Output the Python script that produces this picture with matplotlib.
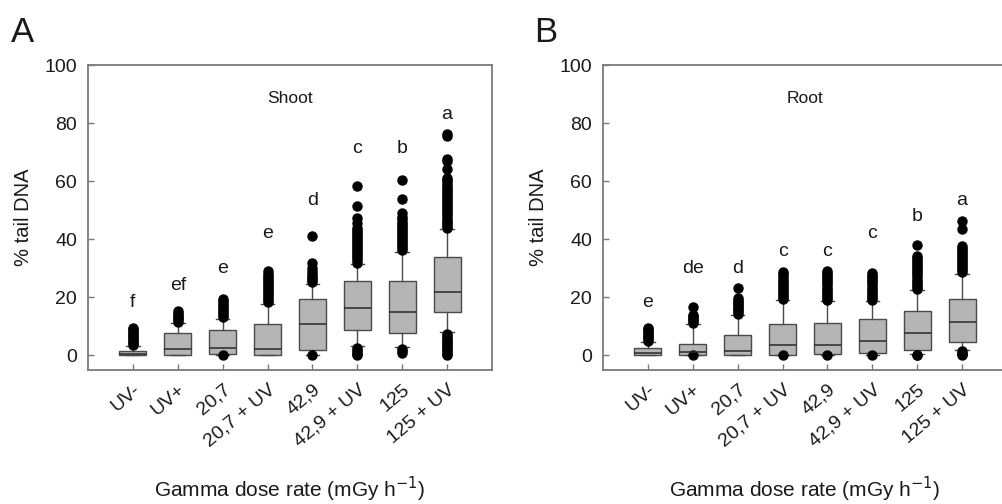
import matplotlib
matplotlib.use("Agg")
import matplotlib.pyplot as plt

plt.rcParams['font.family'] = ['Liberation Sans', 'DejaVu Sans']

treatments = ['UV-', 'UV+', '20,7', '20,7 + UV', '42,9', '42,9 + UV', '125', '125 + UV']

# --- Shoot: box statistics (% tail DNA) ---
shoot_q1 = [0.0, 0.0, 0.6, 0.0, 1.8, 8.6, 7.8, 14.8]
shoot_med = [0.5, 2.3, 2.6, 2.3, 10.8, 16.2, 15.1, 21.9]
shoot_q3 = [1.5, 7.8, 8.7, 10.9, 19.6, 25.8, 25.8, 33.9]
shoot_lo = [0.0, 0.0, 0.0, 0.0, 0.1, 3.3, 2.8, 8.1]
shoot_hi = [3.2, 11.2, 12.7, 17.8, 24.7, 31.5, 35.7, 43.4]
shoot_out = [
    [3.6, 4.2, 4.8, 5.4, 6.0, 6.6, 7.2, 7.8, 8.4, 9.0, 9.5],
    [11.6, 12.2, 12.8, 13.4, 14.0, 14.6, 15.2],
    [0.0, 13.2, 13.8, 14.5, 15.2, 15.9, 16.6, 17.3, 18.0, 18.8, 19.6],
    [18.3, 19.0, 19.7, 20.4, 21.1, 21.8, 22.5, 23.2, 23.9, 24.6, 25.3, 26.0,
     26.7, 27.4, 28.2, 29.0],
    [0.0, 25.2, 25.9, 26.6, 27.3, 28.2, 29.1, 30.0, 31.8, 41.0],
    [0.0, 0.6, 1.2, 1.8, 2.5, 32.0, 32.7, 33.4, 34.1, 34.8, 35.5, 36.2, 36.9,
     37.6, 38.3, 39.0, 39.7, 40.4, 41.1, 41.8, 42.5, 43.2, 44.0, 45.5, 47.3,
     51.3, 58.2],
    [0.9, 1.5, 2.2, 36.3, 37.0, 37.7, 38.4, 39.1, 39.8, 40.5, 41.2, 41.9, 42.6,
     43.3, 44.0, 44.7, 45.4, 46.1, 46.9, 47.8, 49.0, 53.8, 60.5],
    [0.0, 0.6, 1.2, 1.8, 2.4, 3.0, 3.6, 4.2, 4.8, 5.4, 6.0, 6.6, 7.3, 44.0,
     44.7, 45.4, 46.1, 46.8, 47.5, 48.2, 48.9, 49.6, 50.3, 51.0, 51.7, 52.4,
     53.1, 53.8, 54.5, 55.2, 55.9, 56.6, 57.3, 58.0, 58.8, 59.6, 60.4, 61.0,
     64.1, 66.8, 67.6, 75.4, 76.2],
]
shoot_letters = ['f', 'ef', 'e', 'e', 'd', 'c', 'b', 'a']
shoot_letter_y = [16.8, 22.7, 28.4, 40.3, 51.9, 69.6, 69.6, 81.3]

# --- Root: box statistics (% tail DNA) ---
root_q1 = [0.0, 0.3, 0.1, 0.3, 0.6, 0.9, 1.8, 4.8]
root_med = [0.7, 1.3, 1.7, 3.6, 3.6, 4.9, 7.6, 11.5]
root_q3 = [2.6, 4.1, 6.9, 11.0, 11.2, 12.4, 15.2, 19.6]
root_lo = [0.0, 0.0, 0.0, 0.0, 0.0, 0.1, 0.6, 1.8]
root_hi = [4.6, 10.7, 13.9, 19.0, 18.7, 18.7, 22.5, 28.2]
root_out = [
    [5.0, 5.6, 6.2, 6.8, 7.4, 8.0, 8.6, 9.1, 9.5],
    [0.0, 11.2, 11.8, 12.4, 13.0, 13.6, 14.1, 16.6],
    [14.3, 14.9, 15.5, 16.1, 16.7, 17.3, 17.9, 18.5, 19.1, 19.8, 23.3],
    [0.0, 19.5, 20.2, 20.9, 21.6, 22.3, 23.0, 23.7, 24.4, 25.1, 25.8, 26.5,
     27.2, 27.9, 28.6],
    [0.0, 19.2, 19.9, 20.6, 21.3, 22.0, 22.7, 23.4, 24.1, 24.8, 25.5, 26.2,
     26.9, 27.6, 28.3, 29.0],
    [0.0, 19.2, 19.9, 20.6, 21.3, 22.0, 22.7, 23.4, 24.1, 24.8, 25.5, 26.2,
     26.9, 27.6, 28.4],
    [0.0, 0.3, 23.0, 23.7, 24.4, 25.1, 25.8, 26.5, 27.2, 27.9, 28.6, 29.3,
     30.0, 30.7, 31.4, 32.1, 32.8, 33.5, 34.1, 38.1],
    [0.0, 0.5, 1.0, 1.4, 28.7, 29.4, 30.1, 30.8, 31.5, 32.2, 32.9, 33.6, 34.3,
     35.0, 35.7, 36.4, 37.0, 37.6, 43.5, 46.2],
]
root_letters = ['e', 'de', 'd', 'c', 'c', 'c', 'b', 'a']
root_letter_y = [16.7, 28.4, 28.4, 34.4, 34.4, 40.4, 46.2, 51.9]

BOX_FACE = '#b5b5b5'
EDGE = '#4a4a4a'
SPINE = '#7a7a7a'
TXT = '#1a1a1a'


def draw_panel(ax, q1, med, q3, lo, hi, out, letters, letter_y, title):
    stats = []
    for i in range(len(treatments)):
        stats.append(dict(med=med[i], q1=q1[i], q3=q3[i], whislo=lo[i],
                          whishi=hi[i], fliers=out[i], label=treatments[i]))
    positions = list(range(1, len(treatments) + 1))
    ax.bxp(stats, positions=positions, widths=0.6, patch_artist=True,
           boxprops=dict(facecolor=BOX_FACE, edgecolor=EDGE, linewidth=1.0),
           medianprops=dict(color='#2a2a2a', linewidth=1.1),
           whiskerprops=dict(color=EDGE, linewidth=1.0),
           capprops=dict(color=EDGE, linewidth=1.0),
           flierprops=dict(marker='o', markerfacecolor='black',
                           markeredgecolor='black', markersize=6.5))

    # significance letters above each box
    for x, s, y in zip(positions, letters, letter_y):
        ax.text(x, y, s, ha='center', va='baseline', fontsize=14, color=TXT)
    ax.text(4.5, 88.5, title, ha='center', va='center', fontsize=12.5, color=TXT)

    ax.set_xlim(0, 9)
    ax.set_ylim(-5, 100)
    ax.set_yticks([0, 20, 40, 60, 80, 100])
    ax.set_xticks(positions)
    ax.set_xticklabels(treatments, rotation=40, ha='right',
                       rotation_mode='anchor', fontsize=14, color=TXT)
    ax.tick_params(axis='both', direction='in', length=4, width=1.0,
                   color=SPINE, labelsize=14, labelcolor=TXT)
    ax.tick_params(axis='x', pad=8)
    ax.tick_params(axis='y', pad=8)
    for sp in ax.spines.values():
        sp.set_color(SPINE)
        sp.set_linewidth(1.3)

    ax.set_ylabel('% tail DNA', fontsize=14.5, color=TXT)
    ax.yaxis.set_label_coords(-0.136, 0.5)
    ax.set_xlabel('Gamma dose rate (mGy h$^{-1}$)', fontsize=15, color=TXT)
    ax.xaxis.set_label_coords(0.5, -0.345)


fig = plt.figure(figsize=(10.03, 5.04), dpi=100)
ax_a = fig.add_axes([88 / 1003, 134 / 504, 404 / 1003, 305 / 504])
ax_b = fig.add_axes([603 / 1003, 134 / 504, 404 / 1003, 305 / 504])

draw_panel(ax_a, shoot_q1, shoot_med, shoot_q3, shoot_lo, shoot_hi,
           shoot_out, shoot_letters, shoot_letter_y, 'Shoot')
draw_panel(ax_b, root_q1, root_med, root_q3, root_lo, root_hi,
           root_out, root_letters, root_letter_y, 'Root')

fig.text(11 / 1003, 1 - 42 / 504, 'A', fontsize=25, color=TXT, va='baseline')
fig.text(534 / 1003, 1 - 42 / 504, 'B', fontsize=25, color=TXT, va='baseline')

fig.savefig('out.png', dpi=100)
